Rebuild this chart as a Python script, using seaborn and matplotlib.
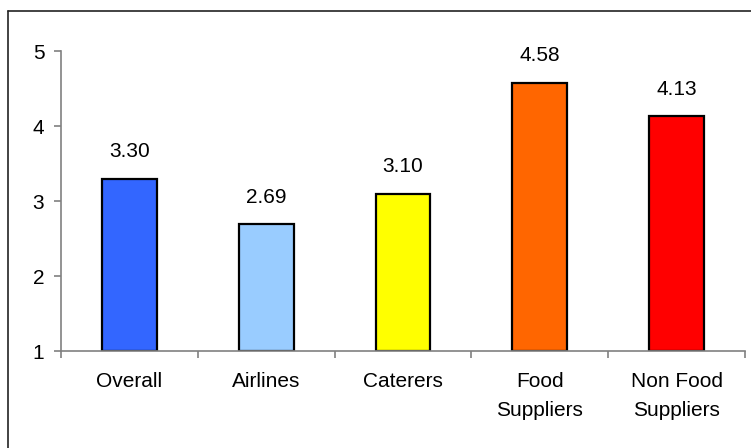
import matplotlib
matplotlib.use("Agg")
import matplotlib.pyplot as plt
import seaborn as sns
import pandas as pd
import numpy as np
from matplotlib.lines import Line2D

categories = ["Overall", "Airlines", "Caterers", "Food\nSuppliers", "Non Food\nSuppliers"]
values = [3.30, 2.69, 3.10, 4.58, 4.13]
colors = ["#3366FF", "#99CCFF", "#FFFF00", "#FF6600", "#FF0000"]
yticks = [1, 2, 3, 4, 5]

sns.set_style("white", {"xtick.bottom": True, "ytick.left": True,
                        "text.color": "black", "xtick.color": "black",
                        "ytick.color": "black"})
plt.rcParams['font.family'] = ['Liberation Sans', 'DejaVu Sans']

df = pd.DataFrame({"cat": categories, "val": values})

fig = plt.figure(figsize=(7.51, 4.48), dpi=100)
W, H = 751, 448
ax = fig.add_axes([61 / W, 1 - 351 / H, (745 - 61) / W, (351 - 51) / H])

sns.barplot(data=df, x="cat", y="val", hue="cat", palette=colors, width=0.4,
            saturation=1, edgecolor="black", linewidth=1.6, legend=False, ax=ax)

# bars start at 1 (the axis minimum)
for p, v in zip(ax.patches, values):
    p.set_y(1)
    p.set_height(v - 1)

FS = 15
ax.set_ylim(1, 5)
ax.set_xlim(-0.5, len(categories) - 0.5)
ax.set_yticks(yticks)
ax.set_yticklabels([str(t) for t in yticks], fontsize=FS, color="black")
ax.set_xticks(range(len(categories)))
ax.set_xticklabels(categories, fontsize=FS, linespacing=1.65, color="black")
ax.set_xticks(np.arange(-0.5, len(categories), 1.0), minor=True)
ax.tick_params(axis="x", which="major", length=0, pad=15)
ax.tick_params(axis="x", which="minor", length=5, width=1.2, color="#808080", direction="out")
ax.tick_params(axis="y", which="major", length=5, width=1.2, color="#808080", direction="out", pad=7)
for lbl in ax.get_xticklabels():
    lbl.set_verticalalignment("top")

ax.set_xlabel("")
ax.set_ylabel("")
for s in ["top", "right"]:
    ax.spines[s].set_visible(False)
for s in ["left", "bottom"]:
    ax.spines[s].set_color("#808080")
    ax.spines[s].set_linewidth(1.2)

for i, v in enumerate(values):
    ax.text(i, v + 0.36, f"{v:.2f}", ha="center", va="center", fontsize=FS, color="black")

# outer frame (left and top only, cropped)
fx = 8 / W
fy = 1 - 11 / H
fig.add_artist(Line2D([fx, fx], [0, fy], transform=fig.transFigure, color="#222222", lw=1.2))
fig.add_artist(Line2D([fx, 1], [fy, fy], transform=fig.transFigure, color="#222222", lw=1.2))

fig.savefig("out.png", dpi=100)
